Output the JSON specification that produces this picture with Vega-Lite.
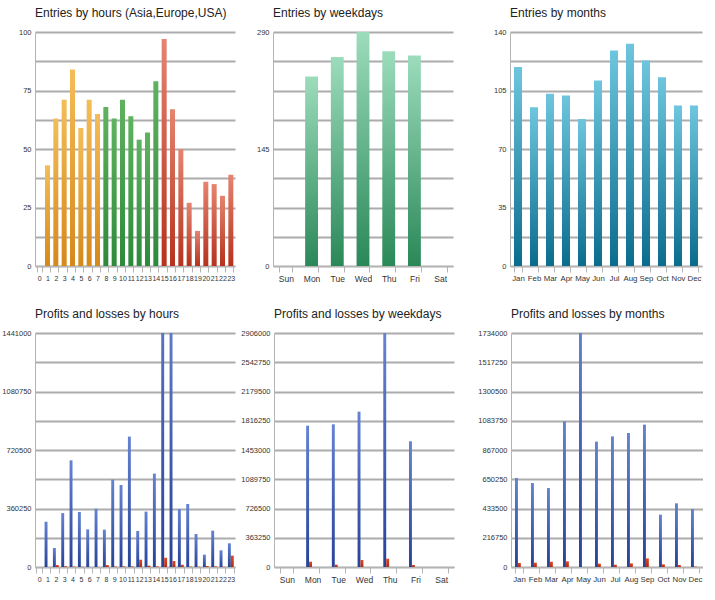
{
  "$schema": "https://vega.github.io/schema/vega-lite/v6.json",
  "padding": {"left": 0, "top": 7, "right": 0, "bottom": 0},
  "background": "white",
  "datasets": {
    "hours": [
      {"hour": 0, "zone": "Asia", "entries": 0},
      {"hour": 1, "zone": "Asia", "entries": 43},
      {"hour": 2, "zone": "Asia", "entries": 63},
      {"hour": 3, "zone": "Asia", "entries": 71},
      {"hour": 4, "zone": "Asia", "entries": 84},
      {"hour": 5, "zone": "Asia", "entries": 59},
      {"hour": 6, "zone": "Asia", "entries": 71},
      {"hour": 7, "zone": "Asia", "entries": 65},
      {"hour": 8, "zone": "Europe", "entries": 68},
      {"hour": 9, "zone": "Europe", "entries": 63},
      {"hour": 10, "zone": "Europe", "entries": 71},
      {"hour": 11, "zone": "Europe", "entries": 64},
      {"hour": 12, "zone": "Europe", "entries": 54},
      {"hour": 13, "zone": "Europe", "entries": 57},
      {"hour": 14, "zone": "Europe", "entries": 79},
      {"hour": 15, "zone": "USA", "entries": 97},
      {"hour": 16, "zone": "USA", "entries": 67},
      {"hour": 17, "zone": "USA", "entries": 50},
      {"hour": 18, "zone": "USA", "entries": 27},
      {"hour": 19, "zone": "USA", "entries": 15},
      {"hour": 20, "zone": "USA", "entries": 36},
      {"hour": 21, "zone": "USA", "entries": 35},
      {"hour": 22, "zone": "USA", "entries": 30},
      {"hour": 23, "zone": "USA", "entries": 39}
    ],
    "weekdays": [
      {"day": "Sun", "entries": 0},
      {"day": "Mon", "entries": 235},
      {"day": "Tue", "entries": 259},
      {"day": "Wed", "entries": 290},
      {"day": "Thu", "entries": 266},
      {"day": "Fri", "entries": 261},
      {"day": "Sat", "entries": 0}
    ],
    "months": [
      {"month": "Jan", "entries": 119},
      {"month": "Feb", "entries": 95},
      {"month": "Mar", "entries": 103},
      {"month": "Apr", "entries": 102},
      {"month": "May", "entries": 88},
      {"month": "Jun", "entries": 111},
      {"month": "Jul", "entries": 129},
      {"month": "Aug", "entries": 133},
      {"month": "Sep", "entries": 123},
      {"month": "Oct", "entries": 113},
      {"month": "Nov", "entries": 96},
      {"month": "Dec", "entries": 96}
    ],
    "pl_hours": [
      {"hour": 0, "kind": "Profit", "amount": 0}, {"hour": 0, "kind": "Loss", "amount": 0},
      {"hour": 1, "kind": "Profit", "amount": 279000}, {"hour": 1, "kind": "Loss", "amount": 0},
      {"hour": 2, "kind": "Profit", "amount": 117000}, {"hour": 2, "kind": "Loss", "amount": 12000},
      {"hour": 3, "kind": "Profit", "amount": 332000}, {"hour": 3, "kind": "Loss", "amount": 5000},
      {"hour": 4, "kind": "Profit", "amount": 657000}, {"hour": 4, "kind": "Loss", "amount": 3000},
      {"hour": 5, "kind": "Profit", "amount": 339000}, {"hour": 5, "kind": "Loss", "amount": 2000},
      {"hour": 6, "kind": "Profit", "amount": 232000}, {"hour": 6, "kind": "Loss", "amount": 0},
      {"hour": 7, "kind": "Profit", "amount": 359000}, {"hour": 7, "kind": "Loss", "amount": 0},
      {"hour": 8, "kind": "Profit", "amount": 230000}, {"hour": 8, "kind": "Loss", "amount": 12000},
      {"hour": 9, "kind": "Profit", "amount": 538000}, {"hour": 9, "kind": "Loss", "amount": 3000},
      {"hour": 10, "kind": "Profit", "amount": 505000}, {"hour": 10, "kind": "Loss", "amount": 4000},
      {"hour": 11, "kind": "Profit", "amount": 803000}, {"hour": 11, "kind": "Loss", "amount": 4000},
      {"hour": 12, "kind": "Profit", "amount": 222000}, {"hour": 12, "kind": "Loss", "amount": 45000},
      {"hour": 13, "kind": "Profit", "amount": 341000}, {"hour": 13, "kind": "Loss", "amount": 8000},
      {"hour": 14, "kind": "Profit", "amount": 575000}, {"hour": 14, "kind": "Loss", "amount": 4000},
      {"hour": 15, "kind": "Profit", "amount": 1900000}, {"hour": 15, "kind": "Loss", "amount": 57000},
      {"hour": 16, "kind": "Profit", "amount": 1650000}, {"hour": 16, "kind": "Loss", "amount": 37000},
      {"hour": 17, "kind": "Profit", "amount": 357000}, {"hour": 17, "kind": "Loss", "amount": 14000},
      {"hour": 18, "kind": "Profit", "amount": 388000}, {"hour": 18, "kind": "Loss", "amount": 3000},
      {"hour": 19, "kind": "Profit", "amount": 203000}, {"hour": 19, "kind": "Loss", "amount": 2000},
      {"hour": 20, "kind": "Profit", "amount": 76000}, {"hour": 20, "kind": "Loss", "amount": 6000},
      {"hour": 21, "kind": "Profit", "amount": 224000}, {"hour": 21, "kind": "Loss", "amount": 4000},
      {"hour": 22, "kind": "Profit", "amount": 103000}, {"hour": 22, "kind": "Loss", "amount": 2000},
      {"hour": 23, "kind": "Profit", "amount": 146000}, {"hour": 23, "kind": "Loss", "amount": 70000}
    ],
    "pl_weekdays": [
      {"day": "Sun", "kind": "Profit", "amount": 0}, {"day": "Sun", "kind": "Loss", "amount": 0},
      {"day": "Mon", "kind": "Profit", "amount": 1755000}, {"day": "Mon", "kind": "Loss", "amount": 66000},
      {"day": "Tue", "kind": "Profit", "amount": 1772000}, {"day": "Tue", "kind": "Loss", "amount": 29000},
      {"day": "Wed", "kind": "Profit", "amount": 1929000}, {"day": "Wed", "kind": "Loss", "amount": 87000},
      {"day": "Thu", "kind": "Profit", "amount": 2906000}, {"day": "Thu", "kind": "Loss", "amount": 103000},
      {"day": "Fri", "kind": "Profit", "amount": 1561000}, {"day": "Fri", "kind": "Loss", "amount": 25000},
      {"day": "Sat", "kind": "Profit", "amount": 0}, {"day": "Sat", "kind": "Loss", "amount": 0}
    ],
    "pl_months": [
      {"month": "Jan", "kind": "Profit", "amount": 660000}, {"month": "Jan", "kind": "Loss", "amount": 30000},
      {"month": "Feb", "kind": "Profit", "amount": 622000}, {"month": "Feb", "kind": "Loss", "amount": 32000},
      {"month": "Mar", "kind": "Profit", "amount": 585000}, {"month": "Mar", "kind": "Loss", "amount": 39000},
      {"month": "Apr", "kind": "Profit", "amount": 1079000}, {"month": "Apr", "kind": "Loss", "amount": 42000},
      {"month": "May", "kind": "Profit", "amount": 1800000}, {"month": "May", "kind": "Loss", "amount": 0},
      {"month": "Jun", "kind": "Profit", "amount": 929000}, {"month": "Jun", "kind": "Loss", "amount": 25000},
      {"month": "Jul", "kind": "Profit", "amount": 968000}, {"month": "Jul", "kind": "Loss", "amount": 17000},
      {"month": "Aug", "kind": "Profit", "amount": 993000}, {"month": "Aug", "kind": "Loss", "amount": 27000},
      {"month": "Sep", "kind": "Profit", "amount": 1055000}, {"month": "Sep", "kind": "Loss", "amount": 64000},
      {"month": "Oct", "kind": "Profit", "amount": 388000}, {"month": "Oct", "kind": "Loss", "amount": 20000},
      {"month": "Nov", "kind": "Profit", "amount": 472000}, {"month": "Nov", "kind": "Loss", "amount": 15000},
      {"month": "Dec", "kind": "Profit", "amount": 430000}, {"month": "Dec", "kind": "Loss", "amount": 3000}
    ]
  },
  "spacing": 25,
  "vconcat": [
    {
      "spacing": 5,
      "hconcat": [
        {
          "title": "Entries by hours (Asia,Europe,USA)",
          "width": 200, "height": 234,
          "data": {"name": "hours"},
          "encoding": {
            "x": {"field": "hour", "type": "ordinal", "scale": {"paddingInner": 0.4, "paddingOuter": 0.2}, "axis": {"title": null, "labelFontSize": 7}},
            "y": {"field": "entries", "type": "quantitative", "scale": {"domain": [0, 100], "nice": false},
                  "axis": {"title": null, "values": [0, 12.5, 25, 37.5, 50, 62.5, 75, 87.5, 100], "labelExpr": "datum.value % 25 == 0 ? datum.label : ''", "minExtent": 35, "maxExtent": 35}}
          },
          "layer": [
            {"transform": [{"filter": "datum.zone == 'Asia'"}],
             "mark": {"type": "bar", "clip": true, "color": {"gradient": "linear", "x1": 0, "y1": 0, "x2": 0, "y2": 1, "stops": [{"offset": 0, "color": "#f4bd58"}, {"offset": 1, "color": "#d6881a"}]}}},
            {"transform": [{"filter": "datum.zone == 'Europe'"}],
             "mark": {"type": "bar", "clip": true, "color": {"gradient": "linear", "x1": 0, "y1": 0, "x2": 0, "y2": 1, "stops": [{"offset": 0, "color": "#5fb35f"}, {"offset": 1, "color": "#2c8a3a"}]}}},
            {"transform": [{"filter": "datum.zone == 'USA'"}],
             "mark": {"type": "bar", "clip": true, "color": {"gradient": "linear", "x1": 0, "y1": 0, "x2": 0, "y2": 1, "stops": [{"offset": 0, "color": "#e58470"}, {"offset": 1, "color": "#b5321e"}]}}}
          ]
        },
        {
          "title": "Entries by weekdays",
          "width": 180, "height": 234,
          "data": {"name": "weekdays"},
          "mark": {"type": "bar", "clip": true, "color": {"gradient": "linear", "x1": 0, "y1": 0, "x2": 0, "y2": 1, "stops": [{"offset": 0, "color": "#9cdcbc"}, {"offset": 1, "color": "#2a8858"}]}},
          "encoding": {
            "x": {"field": "day", "type": "nominal", "sort": ["Sun", "Mon", "Tue", "Wed", "Thu", "Fri", "Sat"], "scale": {"paddingInner": 0.5, "paddingOuter": 0.25}, "axis": {"title": null}},
            "y": {"field": "entries", "type": "quantitative", "scale": {"domain": [0, 290], "nice": false},
                  "axis": {"title": null, "values": [0, 36.25, 72.5, 108.75, 145, 181.25, 217.5, 253.75, 290], "labelExpr": "datum.value % 145 == 0 ? datum.label : ''", "minExtent": 33, "maxExtent": 33}}
          }
        },
        {
          "title": "Entries by months",
          "width": 192, "height": 234,
          "data": {"name": "months"},
          "mark": {"type": "bar", "clip": true, "color": {"gradient": "linear", "x1": 0, "y1": 0, "x2": 0, "y2": 1, "stops": [{"offset": 0, "color": "#6ec6de"}, {"offset": 1, "color": "#0a6c8c"}]}},
          "encoding": {
            "x": {"field": "month", "type": "nominal", "sort": ["Jan", "Feb", "Mar", "Apr", "May", "Jun", "Jul", "Aug", "Sep", "Oct", "Nov", "Dec"], "scale": {"paddingInner": 0.5, "paddingOuter": 0.25}, "axis": {"title": null, "labelFontSize": 7.8}},
            "y": {"field": "entries", "type": "quantitative", "scale": {"domain": [0, 140], "nice": false},
                  "axis": {"title": null, "values": [0, 17.5, 35, 52.5, 70, 87.5, 105, 122.5, 140], "labelExpr": "datum.value % 35 == 0 ? datum.label : ''", "minExtent": 52, "maxExtent": 52}}
          }
        }
      ]
    },
    {
      "spacing": 5,
      "hconcat": [
        {
          "title": "Profits and losses by hours",
          "width": 200, "height": 234,
          "data": {"name": "pl_hours"},
          "encoding": {
            "x": {"field": "hour", "type": "ordinal", "scale": {"paddingInner": 0.3, "paddingOuter": 0.15}, "axis": {"title": null, "labelFontSize": 7}},
            "xOffset": {"field": "kind", "type": "nominal", "scale": {"domain": ["Profit", "Loss"]}},
            "y": {"field": "amount", "type": "quantitative", "scale": {"domain": [0, 1441000], "nice": false},
                  "axis": {"title": null, "values": [0, 180125, 360250, 540375, 720500, 900625, 1080750, 1260875, 1441000], "labelExpr": "datum.value % 360250 == 0 ? format(datum.value, 'd') : ''", "minExtent": 35, "maxExtent": 35}}
          },
          "layer": [
            {"transform": [{"filter": "datum.kind == 'Profit'"}],
             "mark": {"type": "bar", "clip": true, "color": {"gradient": "linear", "x1": 0, "y1": 0, "x2": 0, "y2": 1, "stops": [{"offset": 0, "color": "#6483d2"}, {"offset": 1, "color": "#264398"}]}}},
            {"transform": [{"filter": "datum.kind == 'Loss'"}],
             "mark": {"type": "bar", "clip": true, "color": {"gradient": "linear", "x1": 0, "y1": 0, "x2": 0, "y2": 1, "stops": [{"offset": 0, "color": "#de4a26"}, {"offset": 1, "color": "#b02c14"}]}}}
          ]
        },
        {
          "title": "Profits and losses by weekdays",
          "width": 180, "height": 234,
          "data": {"name": "pl_weekdays"},
          "encoding": {
            "x": {"field": "day", "type": "nominal", "sort": ["Sun", "Mon", "Tue", "Wed", "Thu", "Fri", "Sat"], "scale": {"paddingInner": 0.5, "paddingOuter": 0.25}, "axis": {"title": null}},
            "xOffset": {"field": "kind", "type": "nominal", "scale": {"domain": ["Profit", "Loss"]}},
            "y": {"field": "amount", "type": "quantitative", "scale": {"domain": [0, 2906000], "nice": false},
                  "axis": {"title": null, "values": [0, 363250, 726500, 1089750, 1453000, 1816250, 2179500, 2542750, 2906000], "format": "d", "minExtent": 33, "maxExtent": 33}}
          },
          "layer": [
            {"transform": [{"filter": "datum.kind == 'Profit'"}],
             "mark": {"type": "bar", "clip": true, "color": {"gradient": "linear", "x1": 0, "y1": 0, "x2": 0, "y2": 1, "stops": [{"offset": 0, "color": "#6483d2"}, {"offset": 1, "color": "#264398"}]}}},
            {"transform": [{"filter": "datum.kind == 'Loss'"}],
             "mark": {"type": "bar", "clip": true, "color": {"gradient": "linear", "x1": 0, "y1": 0, "x2": 0, "y2": 1, "stops": [{"offset": 0, "color": "#de4a26"}, {"offset": 1, "color": "#b02c14"}]}}}
          ]
        },
        {
          "title": "Profits and losses by months",
          "width": 192, "height": 234,
          "data": {"name": "pl_months"},
          "encoding": {
            "x": {"field": "month", "type": "nominal", "sort": ["Jan", "Feb", "Mar", "Apr", "May", "Jun", "Jul", "Aug", "Sep", "Oct", "Nov", "Dec"], "scale": {"paddingInner": 0.5, "paddingOuter": 0.25}, "axis": {"title": null, "labelFontSize": 7.8}},
            "xOffset": {"field": "kind", "type": "nominal", "scale": {"domain": ["Profit", "Loss"]}},
            "y": {"field": "amount", "type": "quantitative", "scale": {"domain": [0, 1734000], "nice": false},
                  "axis": {"title": null, "values": [0, 216750, 433500, 650250, 867000, 1083750, 1300500, 1517250, 1734000], "format": "d", "minExtent": 52, "maxExtent": 52}}
          },
          "layer": [
            {"transform": [{"filter": "datum.kind == 'Profit'"}],
             "mark": {"type": "bar", "clip": true, "color": {"gradient": "linear", "x1": 0, "y1": 0, "x2": 0, "y2": 1, "stops": [{"offset": 0, "color": "#6483d2"}, {"offset": 1, "color": "#264398"}]}}},
            {"transform": [{"filter": "datum.kind == 'Loss'"}],
             "mark": {"type": "bar", "clip": true, "color": {"gradient": "linear", "x1": 0, "y1": 0, "x2": 0, "y2": 1, "stops": [{"offset": 0, "color": "#de4a26"}, {"offset": 1, "color": "#b02c14"}]}}}
          ]
        }
      ]
    }
  ],
  "config": {
    "view": {"stroke": null},
    "font": "Liberation Sans",
    "axis": {
      "labelFont": "Liberation Sans",
      "labelFontSize": 7.5,
      "labelColor": "#333333",
      "domainColor": "#b4b4b4",
      "tickColor": "#b4b4b4",
      "gridColor": "#acacac",
      "gridWidth": 2
    },
    "axisY": {"ticks": false, "labelPadding": 4, "grid": true},
    "axisX": {"labelAngle": 0, "grid": false, "tickBand": "extent", "tickSize": 6, "labelPadding": 2, "labelOverlap": false, "labelFontSize": 8.5},
    "title": {"anchor": "start", "frame": "group", "fontSize": 12, "fontWeight": "normal", "color": "#222222", "font": "Liberation Sans", "offset": 8}
  }
}
